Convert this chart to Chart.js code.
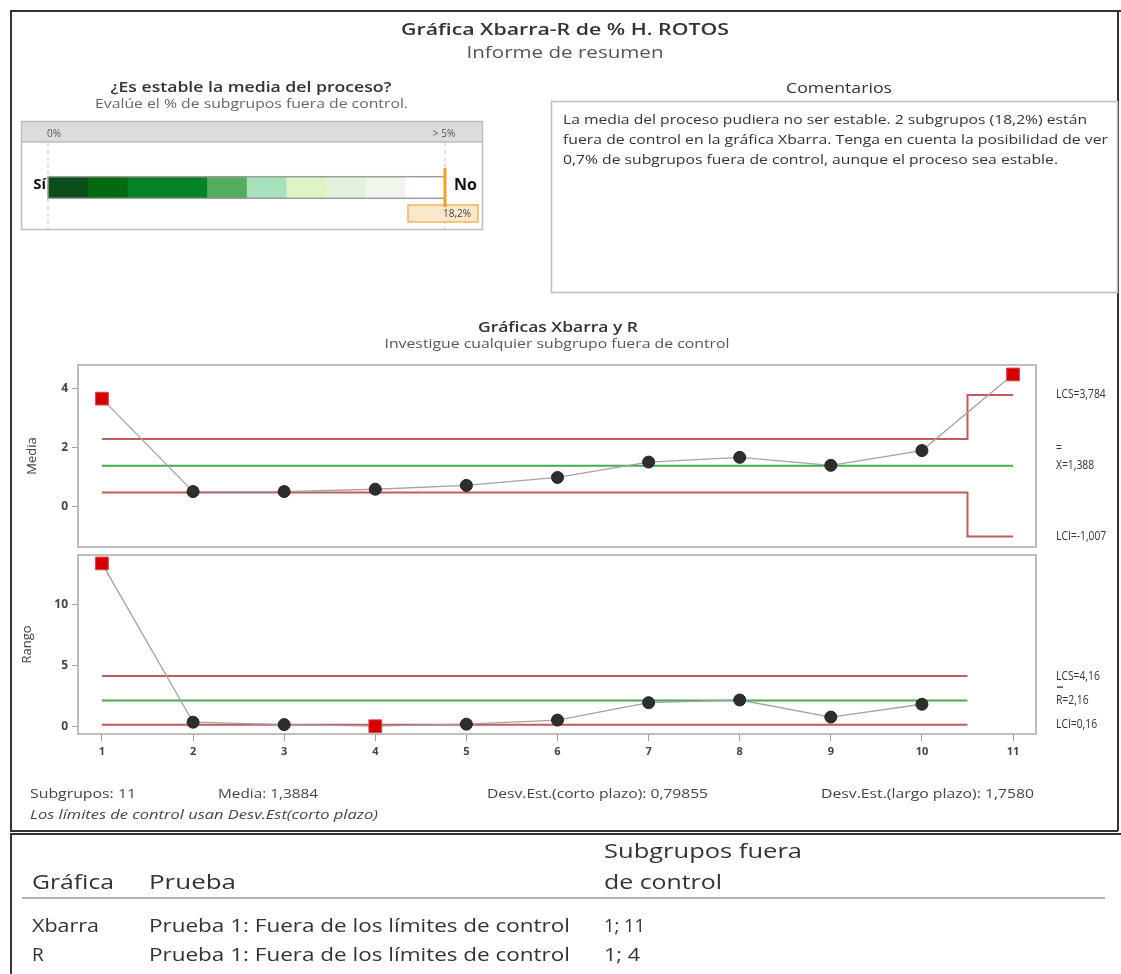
<!DOCTYPE html>
<html>
<head>
<meta charset="utf-8">
<script src="https://cdn.jsdelivr.net/npm/chart.js@4.4.1/dist/chart.umd.min.js"></script>
<style>
  html, body { margin: 0; padding: 0; background: #fff; }
  #wrap { position: relative; width: 1121px; height: 974px; overflow: hidden; }
  #wrap canvas { position: absolute; }
</style>
</head>
<body>
<div id="wrap">
  <canvas id="page" width="1121" height="974" style="left:0;top:0"></canvas>
  <canvas id="gauge" width="480" height="120" style="left:12px;top:115px"></canvas>
  <canvas id="xbar" width="1121" height="202" style="left:0;top:355px"></canvas>
  <canvas id="rng" width="1121" height="220" style="left:0;top:545px"></canvas>
</div>
<script>
// ---- Subgroup data ----
const subgroups = [1, 2, 3, 4, 5, 6, 7, 8, 9, 10, 11];
const xbarMeans = [3.66, 0.51, 0.51, 0.59, 0.72, 0.99, 1.51, 1.67, 1.40, 1.90, 4.48];
const xbarUCL   = [2.294, 2.294, 2.294, 2.294, 2.294, 2.294, 2.294, 2.294, 2.294, 2.294, 3.784];
const xbarLCL   = [0.483, 0.483, 0.483, 0.483, 0.483, 0.483, 0.483, 0.483, 0.483, 0.483, -1.007];
const xbarCenter = 1.388;

const ranges = [13.4, 0.38, 0.18, 0.05, 0.22, 0.55, 1.98, 2.20, 0.80, 1.85, null];
const rUCL   = [4.16, 4.16, 4.16, 4.16, 4.16, 4.16, 4.16, 4.16, 4.16, 4.16, null];
const rLCL   = [0.16, 0.16, 0.16, 0.16, 0.16, 0.16, 0.16, 0.16, 0.16, 0.16, null];
const rCenter = 2.16;

const xbarTicks = [0, 2, 4];
const rTicks = [0, 5, 10];
const subgroupTicks = [1, 2, 3, 4, 5, 6, 7, 8, 9, 10, 11];

// ---- Stability gauge ----
const gaugeBands  = [0.5, 0.5, 1, 0.5, 0.5, 0.5, 0.5, 0.5, 0.5];
const gaugeColors = ['#0b4d1b', '#026b10', '#038226', '#53ad5d', '#a7e2bc', '#ddf5c6', '#e4f0dc', '#eff7ed', '#ffffff'];
const gaugeMax = 5;
const pctOutOfControl = 18.2;

// ---- Summary figures ----
const summaryStats = [
  ['Subgrupos: 11', 30, 106],
  ['Media: 1,3884', 218, 100],
  ['Desv.Est.(corto plazo): 0,79855', 487, 221],
  ['Desv.Est.(largo plazo): 1,7580', 821, 213]
];
const commentLines = [
  'La media del proceso pudiera no ser estable. 2 subgrupos (18,2%) están',
  'fuera de control en la gráfica Xbarra. Tenga en cuenta la posibilidad de ver',
  '0,7% de subgrupos fuera de control, aunque el proceso sea estable.'
];
const testCharts   = ['Xbarra', 'R'];
const testNames    = ['Prueba 1: Fuera de los límites de control', 'Prueba 1: Fuera de los límites de control'];
const testFailures = ['1; 11', '1; 4'];

const FONT = "'Open Sans','Noto Sans',sans-serif";
const RED = '#c25a5e';
const GREEN = '#46aa52';
const fmt = (v, d) => v.toFixed(d).replace('.', ',');

// ---- Static page text and frames ----
const P = document.getElementById('page').getContext('2d');
P.fillStyle = '#fff';
P.fillRect(0, 0, 1121, 974);

function T(s, x, y, size, o = {}) {
  P.save();
  P.font = `${o.italic ? 'italic ' : ''}${o.weight || 400} ${size}px ${FONT}`;
  P.fillStyle = o.color || '#333';
  P.textBaseline = 'middle';
  P.textAlign = 'left';
  const mw = P.measureText(s).width;
  const sx = o.w ? o.w / mw : 1;
  const dw = mw * sx;
  let left = x;
  if (o.align === 'center') left = x - dw / 2;
  else if (o.align === 'right') left = x - dw;
  P.translate(left, y);
  P.scale(sx, 1);
  P.fillText(s, 0, 0);
  P.restore();
}
function line(x1, y1, x2, y2, color, w) {
  P.save();
  P.strokeStyle = color; P.lineWidth = w;
  P.beginPath(); P.moveTo(x1, y1); P.lineTo(x2, y2); P.stroke();
  P.restore();
}

// outer frames
line(10, 11, 1121, 11, '#333', 2);
line(11, 10, 11, 831, '#333', 2);
line(1118, 10, 1118, 831, '#333', 2);
line(10, 831, 1118, 831, '#333', 2);
line(10, 834, 1121, 834, '#333', 2);
line(11, 833, 11, 974, '#333', 2);

// titles
T('Gráfica Xbarra-R de % H. ROTOS', 565, 30, 17, { align: 'center', weight: 600, w: 328 });
T('Informe de resumen', 565, 53, 17, { align: 'center', color: '#555', w: 197 });
T('¿Es estable la media del proceso?', 251, 88, 13.5, { align: 'center', weight: 600, w: 281 });
T('Evalúe el % de subgrupos fuera de control.', 251.5, 105, 12, { align: 'center', color: '#666', w: 313 });

// comments panel
T('Comentarios', 839, 89, 14, { align: 'center', w: 106 });
P.strokeStyle = '#bdbdbd'; P.lineWidth = 1.5;
P.strokeRect(551.5, 101.5, 566, 191);
const commentW = [524, 545, 495];
commentLines.forEach((s, i) => T(s, 563, 120 + i * 20, 13, { w: commentW[i] }));

// chart headings
T('Gráficas Xbarra y R', 558, 328, 13.5, { align: 'center', weight: 600, w: 160 });
T('Investigue cualquier subgrupo fuera de control', 557, 345, 12, { align: 'center', color: '#555', w: 345 });

// summary row
summaryStats.forEach(([s, x, w]) => T(s, x, 794, 12.5, { color: '#444', w }));
T('Los límites de control usan Desv.Est(corto plazo)', 30, 816, 12, { italic: true, color: '#444', w: 348 });

// tests table
T('Subgrupos fuera', 604, 852, 20, { w: 198 });
T('de control', 604, 883, 20, { w: 118 });
T('Gráfica', 32, 883, 20, { w: 82 });
T('Prueba', 149, 883, 20, { w: 87 });
line(22, 898, 1105, 898, '#b3b3b3', 2);
testCharts.forEach((c, i) => {
  const y = 927 + i * 29;
  T(c, 32, y, 19, c === 'Xbarra' ? { w: 67 } : {});
  T(testNames[i], 149, y, 19, { w: 421 });
  T(testFailures[i], 604, y, 19, { w: testFailures[i].length === 5 ? 41 : 36 });
});

// ---- Chart.js ----
Chart.defaults.font.family = FONT;
Chart.defaults.color = '#333';

// gauge decorations: header band, dashed guides, outline, marker
const gaugeDecor = {
  id: 'gaugeDecor',
  beforeDatasetsDraw(chart) {
    const c = chart.ctx, xs = chart.scales.x;
    const x0 = xs.getPixelForValue(0), x5 = xs.getPixelForValue(gaugeMax);
    c.save();
    c.fillStyle = '#dcdcdc';
    c.fillRect(10, 7, 460, 20);
    c.strokeStyle = '#bdbdbd'; c.lineWidth = 1.5;
    c.strokeRect(9.5, 6.5, 461, 108);
    c.beginPath(); c.moveTo(10, 27); c.lineTo(470, 27); c.stroke();
    c.font = `10px ${FONT}`; c.fillStyle = '#555'; c.textBaseline = 'middle';
    c.textAlign = 'left'; c.fillText('0%', x0 - 1, 19);
    c.textAlign = 'center'; c.fillText('> ' + gaugeMax + '%', x5 - 1, 19);
    c.setLineDash([4, 3]); c.strokeStyle = '#c4c4c4'; c.lineWidth = 1;
    [x0, x5].forEach(x => { c.beginPath(); c.moveTo(x, 28); c.lineTo(x, 114); c.stroke(); });
    c.restore();
  },
  afterDatasetsDraw(chart) {
    const c = chart.ctx, xs = chart.scales.x, a = chart.chartArea;
    const x0 = xs.getPixelForValue(0), x5 = xs.getPixelForValue(gaugeMax);
    c.save();
    c.strokeStyle = '#9c9c9c'; c.lineWidth = 1.5;
    c.strokeRect(x0, a.top, x5 - x0, a.bottom - a.top);
    c.fillStyle = '#111'; c.textBaseline = 'middle';
    c.font = `bold 15px ${FONT}`; c.textAlign = 'right'; c.fillText('Sí', x0 - 2, 70);
    c.font = `bold 16px ${FONT}`; c.textAlign = 'left'; c.fillText('No', x5 + 9, 70);
    const xm = xs.getPixelForValue(Math.min(pctOutOfControl, gaugeMax));
    c.fillStyle = '#fbe8cc'; c.strokeStyle = '#f3b558'; c.lineWidth = 1.5;
    c.fillRect(xm - 37, 90, 70, 17); c.strokeRect(xm - 37, 90, 70, 17);
    c.strokeStyle = '#f5a020'; c.lineWidth = 3;
    c.beginPath(); c.moveTo(xm, 53); c.lineTo(xm, 92); c.stroke();
    c.fillStyle = '#444'; c.font = `10px ${FONT}`; c.textAlign = 'right';
    c.fillText(fmt(pctOutOfControl, 1) + '%', xm + 26, 99);
    c.restore();
  }
};

new Chart(document.getElementById('gauge'), {
  type: 'bar',
  data: {
    labels: [''],
    datasets: gaugeBands.map((w, i) => ({
      data: [w], backgroundColor: gaugeColors[i], borderWidth: 0,
      barPercentage: 1, categoryPercentage: 1
    }))
  },
  options: {
    indexAxis: 'y', responsive: false, animation: false, devicePixelRatio: 1,
    layout: { padding: { left: 36, right: 47, top: 61.7, bottom: 36.7 } },
    scales: {
      x: { stacked: true, min: 0, max: gaugeMax, display: false },
      y: { stacked: true, display: false }
    },
    plugins: { legend: { display: false }, tooltip: { enabled: false } }
  },
  plugins: [gaugeDecor]
});

// limit line with a step halfway between subgroups
function stepLine(lims) {
  const n = lims.length, pts = [];
  lims.forEach((v, i) => {
    const s = subgroups[i];
    if (v == null) { pts.push({ x: s, y: null }); return; }
    pts.push({ x: i === 0 ? s : s - 0.5, y: v });
    pts.push({ x: i === n - 1 ? s : s + 0.5, y: v });
  });
  return pts;
}

const plotFrame = {
  id: 'plotFrame',
  afterDraw(chart) {
    const { left, top, right, bottom } = chart.chartArea, c = chart.ctx;
    c.save();
    c.strokeStyle = '#a9a9a9'; c.lineWidth = 1.5;
    c.strokeRect(left, top, right - left, bottom - top);
    c.restore();
  }
};

const sideLabels = {
  id: 'sideLabels',
  afterDraw(chart, args, opts) {
    const c = chart.ctx, ys = chart.scales.y, x0 = chart.chartArea.right + 20;
    c.save();
    c.font = `12px ${FONT}`; c.fillStyle = '#333';
    c.textBaseline = 'middle'; c.textAlign = 'left';
    (opts.items || []).forEach(it => {
      const py = ys.getPixelForValue(it.value);
      c.save();
      c.translate(x0, py);
      c.scale(0.86, 1);
      c.fillText(it.text, 0, 0);
      if (it.bar === 2) c.fillText('=', 0, -17);
      c.restore();
      if (it.bar === 1) c.fillRect(x0 + 1, py - 14, 6, 1.3);
    });
    c.restore();
  }
};

function controlChart(id, cfg) {
  const { vals, ucl, lcl, center, ticks, ymin, ymax, title, titlePad, showX, padTop, padBottom, labels } = cfg;
  const out = vals.map((v, i) => v != null &&
    ((ucl[i] != null && v > ucl[i]) || (lcl[i] != null && v < lcl[i])));
  const centerLine = stepLine(ucl.map(v => (v == null ? null : center)));
  return new Chart(document.getElementById(id), {
    type: 'line',
    data: {
      datasets: [
        {
          data: vals.map((v, i) => ({ x: subgroups[i], y: v })),
          borderColor: '#a3a3a3', borderWidth: 1.3, tension: 0, spanGaps: false, clip: false,
          pointStyle: ctx => (out[ctx.dataIndex] ? 'rect' : 'circle'),
          pointRadius: ctx => (out[ctx.dataIndex] ? 9 : 6),
          pointBackgroundColor: ctx => (out[ctx.dataIndex] ? '#d40000' : '#2e2e2e'),
          pointBorderColor: ctx => (out[ctx.dataIndex] ? '#e04040' : '#222'),
          pointBorderWidth: 1
        },
        { data: stepLine(ucl), borderColor: RED, borderWidth: 2, pointRadius: 0, spanGaps: false },
        { data: stepLine(lcl), borderColor: RED, borderWidth: 2, pointRadius: 0, spanGaps: false },
        { data: centerLine, borderColor: GREEN, borderWidth: 2, pointRadius: 0, spanGaps: false }
      ]
    },
    options: {
      responsive: false, animation: false, devicePixelRatio: 1,
      layout: { padding: { top: padTop, bottom: padBottom, left: 0, right: 85 } },
      plugins: {
        legend: { display: false }, tooltip: { enabled: false },
        sideLabels: { items: labels }
      },
      scales: {
        x: {
          type: 'linear', min: 0.737, max: 11.252, display: showX,
          afterBuildTicks: s => { s.ticks = subgroupTicks.map(v => ({ value: v })); },
          afterFit: s => {
            if (showX) s.height = 31;
            s.paddingLeft = 0; s.paddingRight = 0;
          },
          grid: { drawOnChartArea: false, tickLength: 7, color: '#a0a0a0' },
          border: { display: false },
          ticks: { font: { size: 11, weight: 'bold' }, color: '#444', padding: 4, maxRotation: 0 }
        },
        y: {
          type: 'linear', min: ymin, max: ymax,
          afterBuildTicks: s => { s.ticks = ticks.map(v => ({ value: v })); },
          afterFit: s => { s.width = 78; s.paddingTop = 0; s.paddingBottom = 0; },
          grid: { drawOnChartArea: false, tickLength: 6, color: '#a0a0a0' },
          border: { display: false },
          ticks: { font: { size: 12, weight: 'bold' }, color: '#444', padding: 4 },
          title: { display: true, text: title, font: { size: 13 }, color: '#444', padding: { top: titlePad, bottom: 0 } }
        }
      }
    },
    plugins: [plotFrame, sideLabels]
  });
}

const last = subgroups.length - 1;
controlChart('xbar', {
  vals: xbarMeans, ucl: xbarUCL, lcl: xbarLCL, center: xbarCenter,
  ticks: xbarTicks, ymin: -1.367, ymax: 4.8, title: 'Media', titlePad: 24,
  showX: false, padTop: 5, padBottom: 1,
  labels: [
    { value: xbarUCL[last], text: 'LCS=' + fmt(xbarUCL[last], 3) },
    { value: xbarCenter, text: 'X=' + fmt(xbarCenter, 3), bar: 2 },
    { value: xbarLCL[last], text: 'LCI=' + fmt(xbarLCL[last], 3) }
  ]
});
controlChart('rng', {
  vals: ranges, ucl: rUCL, lcl: rLCL, center: rCenter,
  ticks: rTicks, ymin: -0.589, ymax: 14.09, title: 'Rango', titlePad: 19,
  showX: true, padTop: 1, padBottom: 0,
  labels: [
    { value: rUCL[0], text: 'LCS=' + fmt(rUCL[0], 2) },
    { value: rCenter, text: 'R=' + fmt(rCenter, 2), bar: 1 },
    { value: rLCL[0], text: 'LCI=' + fmt(rLCL[0], 2) }
  ]
});
</script>
</body>
</html>
